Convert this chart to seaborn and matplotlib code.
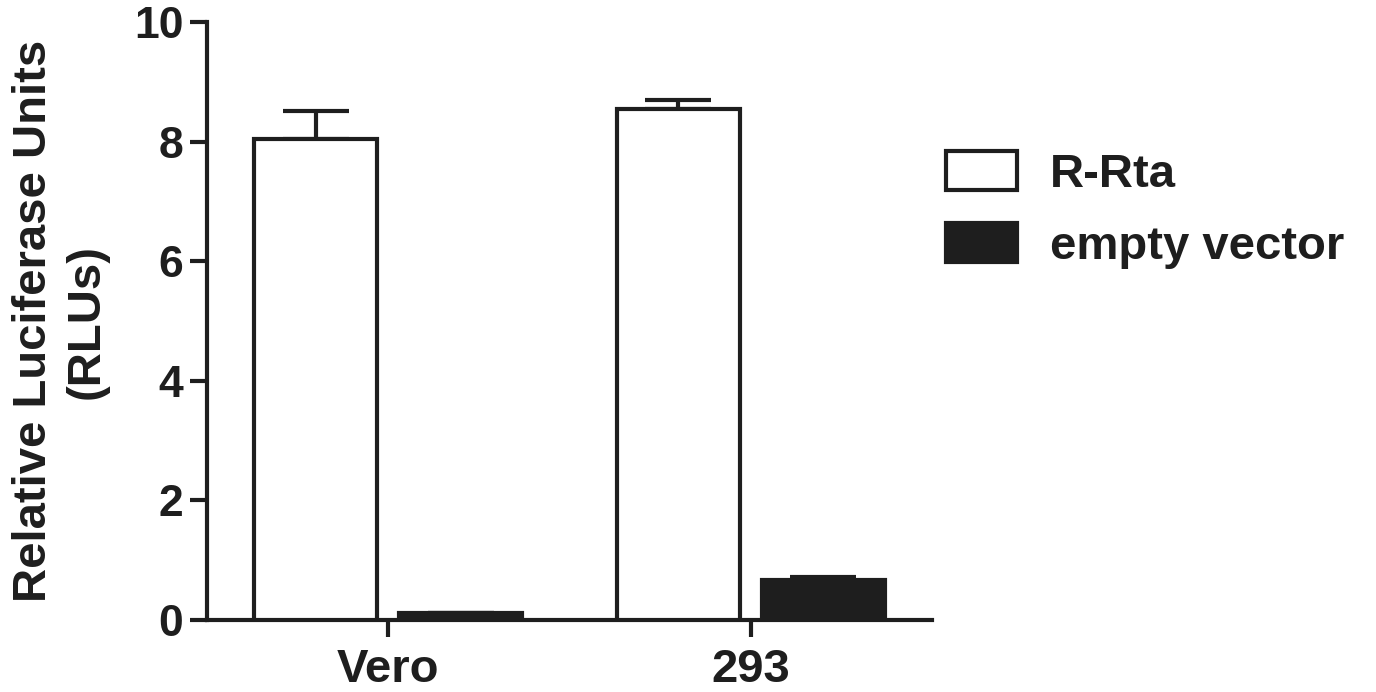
import matplotlib
matplotlib.use("Agg")
import matplotlib.pyplot as plt
import seaborn as sns
import pandas as pd
from matplotlib.patches import Patch

# Luciferase reporter readings (mean with upward SEM)
cell_lines = ["Vero", "293"]
constructs = ["R-Rta", "empty vector"]
rrta_mean = [8.04, 8.55]
rrta_err = [0.47, 0.15]
empty_mean = [0.12, 0.67]
empty_err = [0.0, 0.05]
y_ticks = [0, 2, 4, 6, 8, 10]

df = pd.DataFrame({
    "cell": cell_lines * 2,
    "construct": [constructs[0]] * 2 + [constructs[1]] * 2,
    "rlu": rrta_mean + empty_mean,
    "err": rrta_err + empty_err,
})

sns.set_style("ticks")
plt.rcParams["font.family"] = ["Liberation Sans", "DejaVu Sans"]
plt.rcParams["font.weight"] = "bold"

ink = "#1e1e1e"
fig = plt.figure(figsize=(13.76, 6.92), dpi=100)
ax = fig.add_axes([207 / 1376, 1 - 620 / 692, 725 / 1376, 598 / 692])

sns.barplot(data=df, x="cell", y="rlu", hue="construct", order=cell_lines,
            hue_order=constructs, palette={"R-Rta": "white", "empty vector": ink},
            edgecolor=ink, linewidth=3, gap=0.15, errorbar=None, legend=False,
            ax=ax, zorder=3)

# upward-only error bars centred on each bar (patches come hue by hue)
ordered = [(c, cl) for c in constructs for cl in cell_lines]
lookup = df.set_index(["construct", "cell"])["err"]
for patch, key in zip(ax.patches, ordered):
    xc = patch.get_x() + patch.get_width() / 2
    ax.errorbar(xc, patch.get_height(), yerr=[[0], [lookup[key]]], fmt="none",
                ecolor=ink, elinewidth=3, capsize=24, capthick=3, zorder=2)

ax.set_ylim(0, 10)
ax.set_xlim(-0.5, 1.5)
ax.set_yticks(y_ticks)
ax.set_yticklabels([str(t) for t in y_ticks])
sns.despine(ax=ax)
for side in ("left", "bottom"):
    ax.spines[side].set_linewidth(3)
    ax.spines[side].set_color(ink)
ax.tick_params(axis="both", direction="out", width=3, length=12, color=ink,
               labelcolor=ink)
ax.tick_params(axis="y", labelsize=32, pad=5)
ax.tick_params(axis="x", labelsize=34, pad=8)
ax.set_xlabel("")
ax.set_ylabel("Relative Luciferase Units\n(RLUs)", fontsize=34,
              fontweight="bold", color=ink, linespacing=1.25, labelpad=18)

handles = [Patch(facecolor="white", edgecolor=ink, linewidth=3),
           Patch(facecolor=ink, edgecolor=ink, linewidth=3)]
fig.legend(handles, constructs, loc="upper left",
           bbox_to_anchor=(946 / 1376, 1 - 151 / 692), frameon=False,
           fontsize=34, handlelength=1.5, handleheight=0.9,
           handletextpad=0.7, labelspacing=0.55, borderpad=0,
           borderaxespad=0)
for t in fig.legends[0].get_texts():
    t.set_color(ink)

fig.savefig("out.png", dpi=100, facecolor="white")
